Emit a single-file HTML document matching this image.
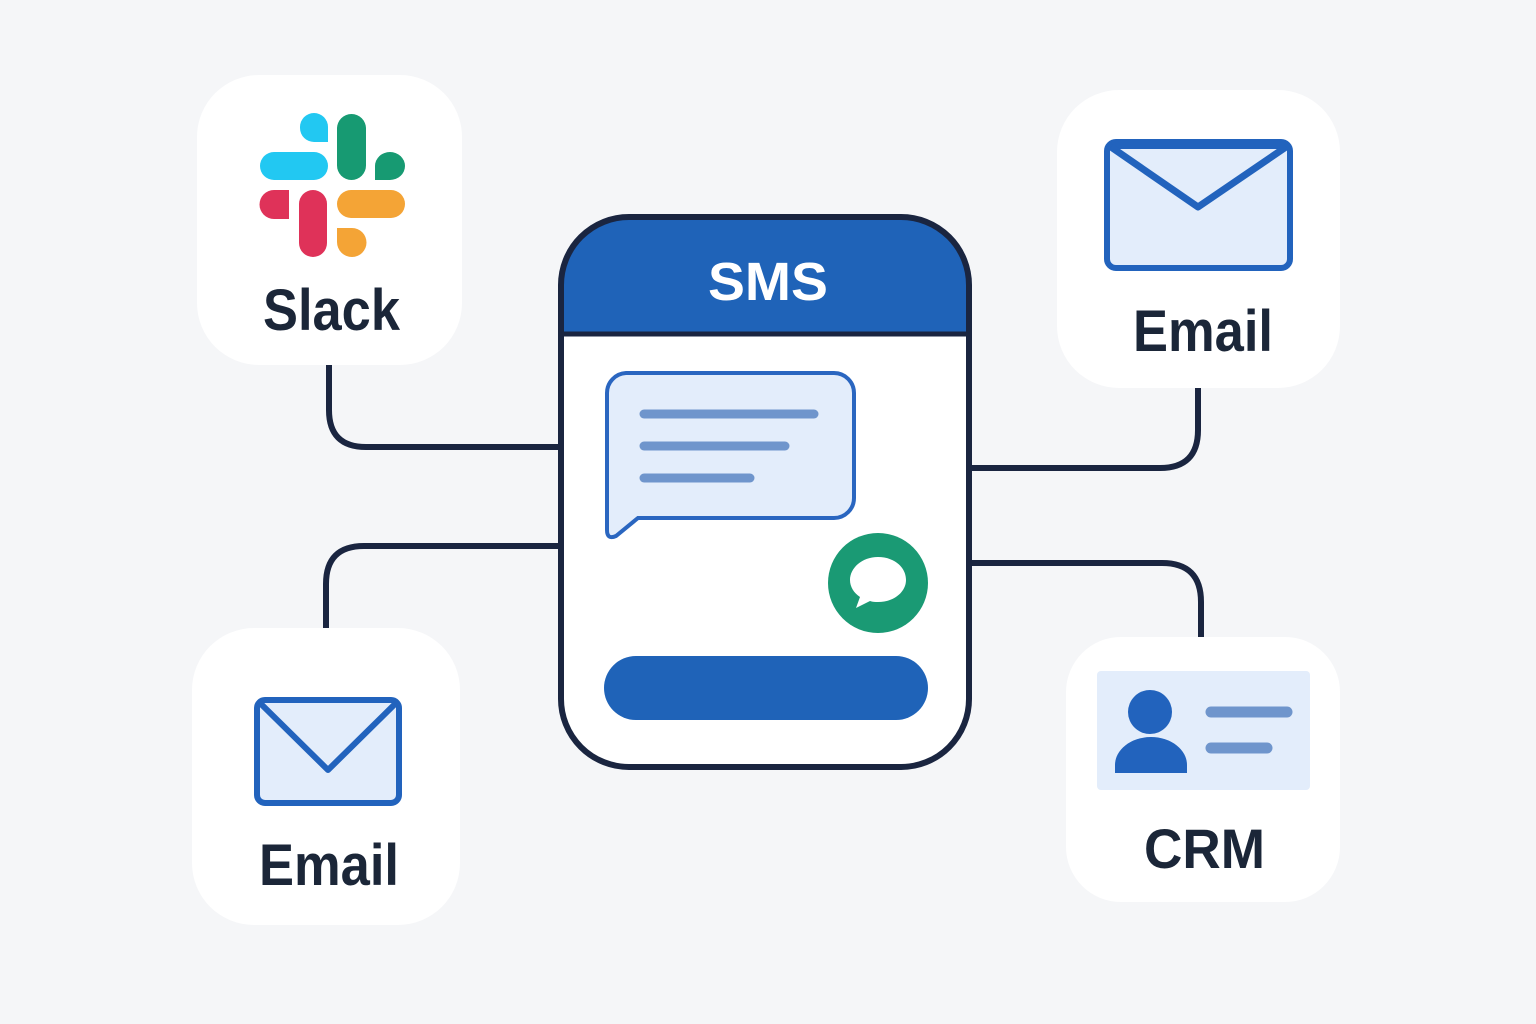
<!DOCTYPE html>
<html><head><meta charset="utf-8"><style>
html,body{margin:0;padding:0;background:#f5f6f8;}
svg{display:block}
text{font-family:"Liberation Sans","DejaVu Sans",sans-serif;font-weight:bold}
</style></head><body>
<svg width="1536" height="1024" viewBox="0 0 1536 1024" xmlns="http://www.w3.org/2000/svg">
<rect width="1536" height="1024" fill="#f5f6f8"/>
<g fill="none" stroke="#1a2540" stroke-width="6">
<path d="M329 365 V410 Q329 447 366 447 H560"/>
<path d="M560 546 H364 Q326 546 326 584 V630"/>
<path d="M970 468 H1160 Q1198 468 1198 430 V388"/>
<path d="M970 563 H1162 Q1201 563 1201 602 V638"/>
</g>
<rect x="197" y="75" width="265" height="290" rx="62" fill="#fff"/>
<rect x="1057" y="90" width="283" height="298" rx="62" fill="#fff"/>
<rect x="192" y="628" width="268" height="297" rx="62" fill="#fff"/>
<rect x="1066" y="637" width="274" height="265" rx="55" fill="#fff"/>
<path d="M300 127 a14 14 0 0 1 28 0 V142 H314 a14 14 0 0 1 -14 -14z" fill="#22c8f2"/>
<rect x="260" y="152" width="68" height="28" rx="14" fill="#22c8f2"/>
<rect x="337" y="114" width="29" height="66" rx="14.5" fill="#179a72"/>
<path d="M375 166 a15 14 0 1 1 15 14 H375z" fill="#179a72"/>
<path d="M289 190 V219 H274 a14.5 14.5 0 0 1 0 -29z" fill="#df3259"/>
<rect x="299" y="190" width="28" height="67" rx="14" fill="#df3259"/>
<rect x="337" y="190" width="68" height="28" rx="14" fill="#f4a436"/>
<path d="M337 228 H352 a14.5 14.5 0 0 1 0 29 a15 15 0 0 1 -15 -15z" fill="#f4a436"/>
<text x="263" y="330" font-size="58" fill="#1b2638" textLength="137" lengthAdjust="spacingAndGlyphs">Slack</text>
<rect x="1107" y="142" width="183" height="126" rx="9" fill="#e3edfb" stroke="#2263bd" stroke-width="6"/>
<rect x="1107" y="142" width="183" height="7" rx="3" fill="#2263bd"/>
<path d="M1111 147 L1198 207 L1286 147" fill="none" stroke="#2263bd" stroke-width="7" stroke-linejoin="round"/>
<text x="1133" y="351" font-size="58" fill="#1b2638" textLength="140" lengthAdjust="spacingAndGlyphs">Email</text>
<rect x="257" y="700" width="142" height="103" rx="8" fill="#e3edfb" stroke="#2263bd" stroke-width="6"/>
<path d="M260 703 L328 770 L396 703" fill="none" stroke="#2263bd" stroke-width="6" stroke-linejoin="round"/>
<text x="259" y="885" font-size="58" fill="#1b2638" textLength="140" lengthAdjust="spacingAndGlyphs">Email</text>
<rect x="1097" y="671" width="213" height="119" rx="4" fill="#e3edfb"/>
<circle cx="1150" cy="712" r="22" fill="#2263bd"/>
<path d="M1115 773 V765 a36 28 0 0 1 72 0 V773z" fill="#2263bd"/>
<g stroke="#6f95cc" stroke-width="11" stroke-linecap="round">
<line x1="1211" y1="712" x2="1287" y2="712"/>
<line x1="1211" y1="748" x2="1267" y2="748"/>
</g>
<text x="1144" y="868" font-size="56" fill="#1b2638" textLength="121" lengthAdjust="spacingAndGlyphs">CRM</text>
<defs><clipPath id="ph"><rect x="561" y="217" width="408" height="550" rx="68"/></clipPath></defs>
<rect x="561" y="217" width="408" height="550" rx="68" fill="#fff"/>
<g clip-path="url(#ph)">
<rect x="561" y="217" width="408" height="116" fill="#1f63b8"/>
<line x1="561" y1="334" x2="969" y2="334" stroke="#1a2540" stroke-width="5"/>
</g>
<rect x="561" y="217" width="408" height="550" rx="68" fill="none" stroke="#1a2540" stroke-width="6"/>
<text x="708" y="300" font-size="54" fill="#fff" textLength="120" lengthAdjust="spacingAndGlyphs">SMS</text>
<path d="M626 373 H834 a20 20 0 0 1 20 20 V498 a20 20 0 0 1 -20 20 H638 L616 536 Q607 540 607 530 V393 a20 20 0 0 1 19 -20z" fill="#e3edfb" stroke="#2a66c0" stroke-width="4"/>
<g stroke="#6f95cc" stroke-width="9" stroke-linecap="round">
<line x1="644" y1="414" x2="814" y2="414"/>
<line x1="644" y1="446" x2="785" y2="446"/>
<line x1="644" y1="478" x2="750" y2="478"/>
</g>
<circle cx="878" cy="583" r="50" fill="#1a9a74"/>
<path d="M878 557 c-16 0 -28 11 -28 23 c0 7 4 13 10 17 l-4 11 l14 -7 c3 1 5 1 8 1 c16 0 28 -10 28 -22 c0 -13 -12 -23 -28 -23z" fill="#fff"/>
<rect x="604" y="656" width="324" height="64" rx="32" fill="#1f63b8"/>
</svg>
</body></html>
